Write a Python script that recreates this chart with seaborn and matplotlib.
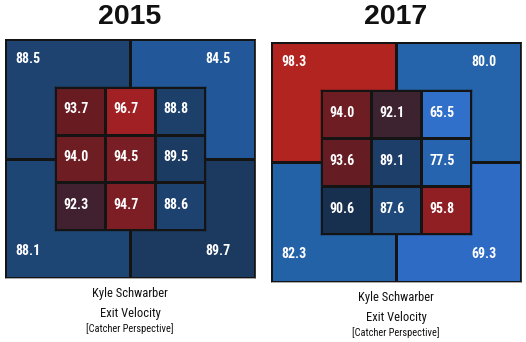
import numpy as np
import matplotlib
matplotlib.use("Agg")
import matplotlib.pyplot as plt
from matplotlib.colors import LinearSegmentedColormap, Normalize
import seaborn as sns

# Exit velocity by zone, catcher perspective (rows top -> bottom, cols left -> right)
years = ["2015", "2017"]
outer_2015 = [[88.5, 84.5], [88.1, 89.7]]
inner_2015 = [[93.7, 96.7, 88.8], [94.0, 94.5, 89.5], [92.3, 94.7, 88.6]]
outer_2017 = [[98.3, 80.0], [82.3, 69.3]]
inner_2017 = [[94.0, 92.1, 65.5], [93.6, 89.1, 77.5], [90.6, 87.6, 95.8]]
player = "Kyle Schwarber"
metric = "Exit Velocity"
note = "[Catcher Perspective]"

sns.set_theme(style="white")
plt.rcParams["font.family"] = ["Roboto Condensed", "Liberation Sans Narrow", "Roboto", "DejaVu Sans"]

# blue -> dark -> red scale for exit velocity
vmin, vmax = 65.0, 99.0
stops = [(65.0, "#3070cc"), (70.0, "#2d6ac3"), (78.0, "#2664ae"), (82.5, "#2462a8"),
         (84.5, "#22589a"), (87.5, "#1f4a7c"), (88.5, "#1e4370"), (89.7, "#1c3a60"),
         (90.6, "#18304f"), (92.2, "#3d2230"), (93.7, "#661c22"), (94.7, "#7b1e24"),
         (96.7, "#a12023"), (99.0, "#b8261f")]
cmap = LinearSegmentedColormap.from_list(
    "ev", [((v - vmin) / (vmax - vmin), c) for v, c in stops])
norm = Normalize(vmin, vmax)

fig = plt.figure(figsize=(5.26, 3.42), dpi=100)
W, H = 526, 342
edge = "#141414"

panels = [
    (years[0], outer_2015, inner_2015, (5, 39, 250, 239)),
    (years[1], outer_2017, inner_2017, (271, 42, 250, 240)),
]

lab_font = dict(color="white", fontweight="bold", fontsize=10)

for year, outer, inner, (px, py, pw, ph) in panels:
    ax = fig.add_axes([px / W, 1 - (py + ph) / H, pw / W, ph / H])
    sns.heatmap(np.array(outer), ax=ax, cmap=cmap, norm=norm, cbar=False,
                linewidths=0.8, linecolor=edge, xticklabels=False, yticklabels=False)
    for name, s in ax.spines.items():
        s.set_visible(True)
        s.set_color("#9a9a9a" if name == "bottom" else edge)
        s.set_linewidth(0.6)
    # corner labels of the outer zones
    xs = [0.08, 1.6]
    ys = [0.17, 1.77]
    for i in range(2):
        for j in range(2):
            ax.text(xs[j], ys[i], f"{outer[i][j]:.1f}", ha="left", va="center", **lab_font)

    ix = ax.inset_axes([0.2, 0.2, 0.6, 0.6])
    sns.heatmap(np.array(inner), ax=ix, cmap=cmap, norm=norm, cbar=False,
                linewidths=1, linecolor=edge, xticklabels=False, yticklabels=False)
    for s in ix.spines.values():
        s.set_visible(True)
        s.set_color(edge)
        s.set_linewidth(1.0)
    for i in range(3):
        for j in range(3):
            ix.text(j + 0.42, i + 0.47, f"{inner[i][j]:.1f}", ha="center", va="center", **lab_font)

    cx = (px + pw / 2) / W
    fig.text(cx, 1 - 17 / H, year, ha="center", va="center", fontsize=20.5,
             fontweight="bold", family=["Liberation Sans", "DejaVu Sans"], color="#111111")
    fig.text(cx, 1 - (py + ph + 15) / H, player, ha="center", va="center", fontsize=9, color="#111111")
    fig.text(cx, 1 - (py + ph + 35) / H, metric, ha="center", va="center", fontsize=9, color="#111111")
    fig.text(cx, 1 - (py + ph + 51) / H, note, ha="center", va="center", fontsize=7.5, color="#111111")

fig.savefig("out.png", dpi=100)
